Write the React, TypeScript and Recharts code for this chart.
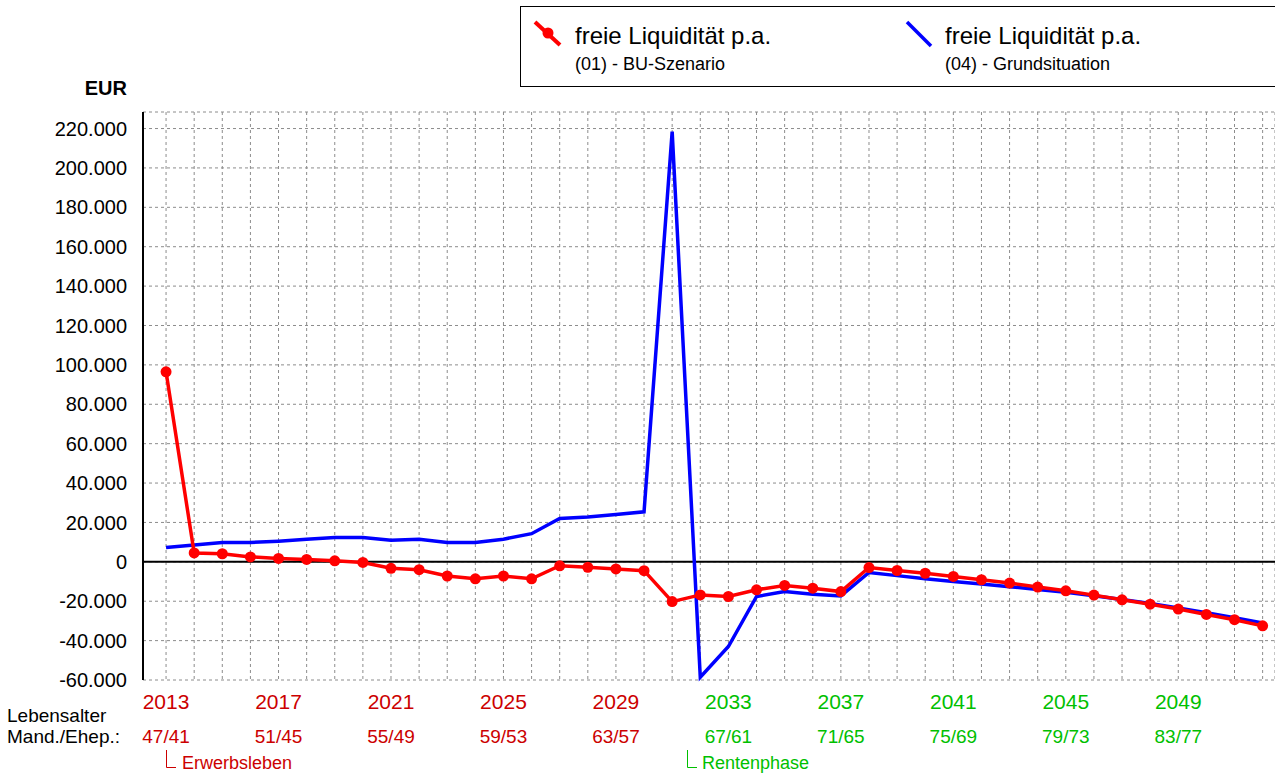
import React from "react";
import {
  CartesianGrid,
  Line,
  LineChart,
  ReferenceLine,
  XAxis,
  YAxis,
} from "recharts";

const FONT = "'Liberation Sans', Arial, sans-serif";
const LABEL_RED = "#cc0000";
const LABEL_GREEN = "#00c000";

const years = [
  2013, 2014, 2015, 2016, 2017, 2018, 2019, 2020, 2021, 2022,
  2023, 2024, 2025, 2026, 2027, 2028, 2029, 2030, 2031, 2032,
  2033, 2034, 2035, 2036, 2037, 2038, 2039, 2040, 2041, 2042,
  2043, 2044, 2045, 2046, 2047, 2048, 2049, 2050, 2051, 2052,
];

// (01) - BU-Szenario
const buSzenario = [
  96500, 4500, 4100, 2500, 1700, 1200, 500, -300, -3300, -4000,
  -7200, -8600, -7200, -8600, -2000, -2800, -3600, -4500, -20200, -16800,
  -17600, -14200, -12000, -13400, -15100, -2900, -4400, -5800, -7400, -9100,
  -10800, -12800, -14700, -16900, -19300, -21500, -24000, -26700, -29400, -32500,
];

// (04) - Grundsituation
const grundsituation = [
  7300, 8600, 9800, 9800, 10500, 11500, 12300, 12300, 11000, 11500,
  9800, 9800, 11500, 14300, 22000, 22800, 24000, 25400, 218400, -58600,
  -43000, -17600, -15100, -16400, -17300, -5400, -7000, -8600, -10000, -11300,
  -12600, -14000, -15500, -17200, -19100, -21200, -23400, -25900, -28400, -31000,
];

const yearLabels = [2013, 2017, 2021, 2025, 2029, 2033, 2037, 2041, 2045, 2049];
const ageLabels = [
  "47/41", "51/45", "55/49", "59/53", "63/57",
  "67/61", "71/65", "75/69", "79/73", "83/77",
];
const yTicks = [
  -60000, -40000, -20000, 0, 20000, 40000, 60000, 80000, 100000, 120000,
  140000, 160000, 180000, 200000, 220000,
];
const retirementYear = 2031;

const data = years.map((year, i) => ({
  year,
  bu: buSzenario[i],
  grund: grundsituation[i],
}));

function formatEur(v: number) {
  const s = Math.abs(v).toString().replace(/\B(?=(\d{3})+(?!\d))/g, ".");
  return v < 0 ? "-" + s : s;
}

function YearTick(props: any) {
  const { x, y, payload } = props;
  const idx = yearLabels.indexOf(payload.value);
  if (idx < 0) return <g />;
  const color = payload.value < retirementYear ? LABEL_RED : LABEL_GREEN;
  return (
    <g fontFamily={FONT} fill={color}>
      <text x={x} y={y + 29} textAnchor="middle" fontSize={21}>
        {payload.value}
      </text>
      <text x={x} y={y + 63} textAnchor="middle" fontSize={19}>
        {ageLabels[idx]}
      </text>
    </g>
  );
}

function Overlay() {
  return (
    <svg
      width={1275}
      height={775}
      style={{ position: "absolute", left: 0, top: 0, pointerEvents: "none" }}
      fontFamily={FONT}
    >
      {/* legend */}
      <rect x={520.5} y={6.5} width={800} height={80} fill="#fff" stroke="#000" />
      <line x1={535} y1={22} x2={560} y2={45} stroke="#ff0000" strokeWidth={4} />
      <circle cx={548} cy={33} r={5.5} fill="#ff0000" />
      <text x={575} y={44} fontSize={24}>freie Liquidität p.a.</text>
      <text x={575} y={70} fontSize={18}>(01) - BU-Szenario</text>
      <line x1={907} y1={22} x2={931} y2={46} stroke="#0000ff" strokeWidth={3.5} />
      <text x={945} y={44} fontSize={24}>freie Liquidität p.a.</text>
      <text x={945} y={70} fontSize={18}>(04) - Grundsituation</text>

      <text x={127} y={95} textAnchor="end" fontSize={20} fontWeight="bold">EUR</text>

      <text x={7} y={722} fontSize={19}>Lebensalter</text>
      <text x={7} y={743} fontSize={19}>Mand./Ehep.:</text>

      <path d="M166.5 750 V767.5 H176" fill="none" stroke={LABEL_RED} strokeWidth={1} />
      <text x={182} y={769} fontSize={18} fill={LABEL_RED}>Erwerbsleben</text>
      <path d="M687.5 750 V767.5 H697" fill="none" stroke={LABEL_GREEN} strokeWidth={1} />
      <text x={702} y={769} fontSize={18} fill={LABEL_GREEN}>Rentenphase</text>
    </svg>
  );
}

export default function App() {
  return (
    <div
      style={{
        position: "absolute",
        left: 0,
        top: 0,
        width: 1275,
        height: 775,
        background: "#fff",
        fontFamily: FONT,
      }}
    >
      <LineChart
        width={1275}
        height={775}
        data={data}
        margin={{ top: 112, right: 0, bottom: 0, left: 0 }}
      >
        <CartesianGrid stroke="#8c8c8c" strokeDasharray="3 3" />
        <XAxis
          dataKey="year"
          type="number"
          domain={[2012.18, 2052.44]}
          ticks={years}
          interval={0}
          height={95}
          axisLine={false}
          tickLine={false}
          tickSize={0}
          tickMargin={0}
          tick={<YearTick />}
        />
        <YAxis
          width={143}
          domain={[-60000, 228400]}
          ticks={yTicks}
          interval={0}
          tickFormatter={formatEur}
          axisLine={{ stroke: "#000", strokeWidth: 2 }}
          tickLine={false}
          tickSize={0}
          tickMargin={16}
          tick={{ fill: "#000", fontSize: 20, fontFamily: FONT }}
        />
        <ReferenceLine y={0} stroke="#000" strokeWidth={2} />
        <Line
          dataKey="grund"
          type="linear"
          stroke="#0000ff"
          strokeWidth={3.5}
          dot={false}
          isAnimationActive={false}
        />
        <Line
          dataKey="bu"
          type="linear"
          stroke="#ff0000"
          strokeWidth={3.5}
          dot={{ r: 5.5, fill: "#ff0000", stroke: "none" }}
          isAnimationActive={false}
        />
      </LineChart>
      <Overlay />
    </div>
  );
}
